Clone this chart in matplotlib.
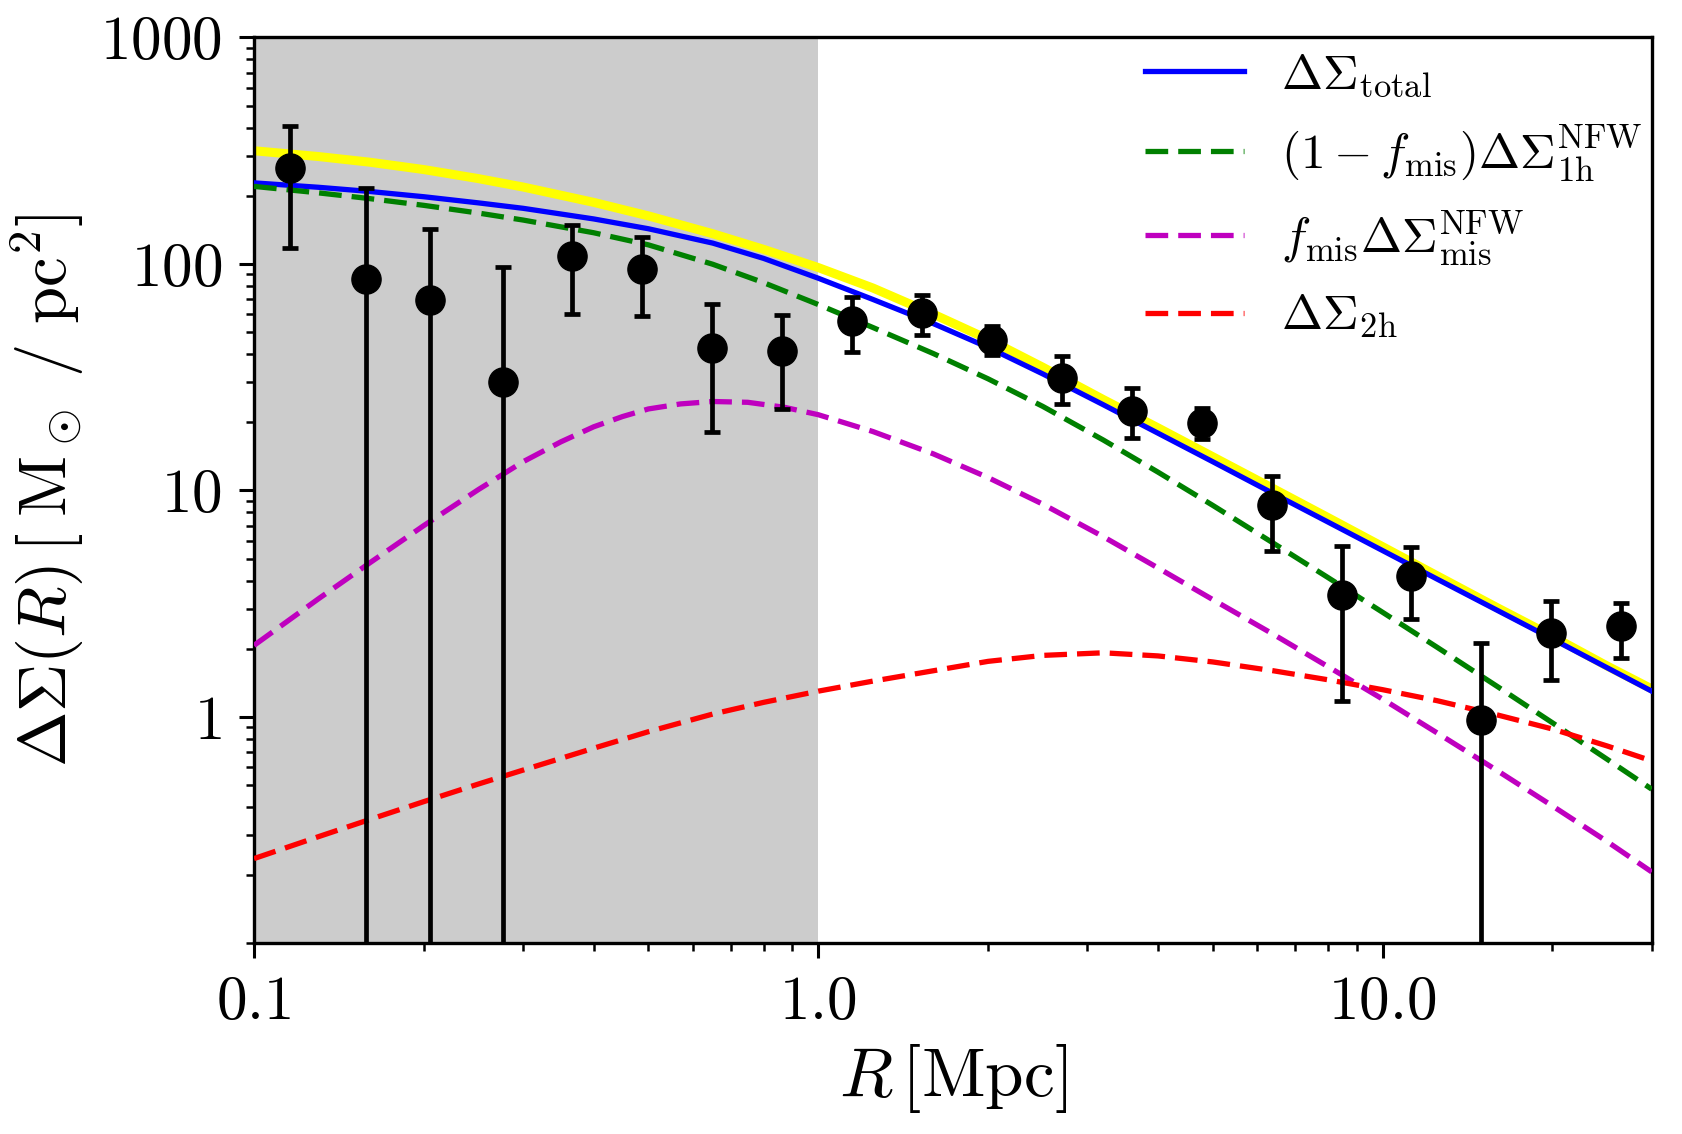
import numpy as np
import matplotlib
matplotlib.use("Agg")
import matplotlib.pyplot as plt
from matplotlib.ticker import FixedLocator, FixedFormatter, LogLocator, NullFormatter

plt.rcParams['mathtext.fontset'] = 'cm'
plt.rcParams['font.family'] = 'serif'
plt.rcParams['font.serif'] = ['cmr10', 'DejaVu Serif']
plt.rcParams['axes.unicode_minus'] = False

# ---- data points ----
R_data = [0.1156, 0.158, 0.205, 0.276, 0.366, 0.487, 0.648, 0.863, 1.148, 1.527,
          2.03, 2.70, 3.60, 4.79, 6.37, 8.47, 11.25, 14.96, 19.9, 26.5]
DS_data = [264, 86, 69, 30.1, 108, 94.6, 42.7, 41.3, 56.1, 60.5,
           46.1, 31.5, 22.4, 19.9, 8.6, 3.47, 4.18, 0.97, 2.34, 2.53]
DS_hi = [408, 217, 143, 97, 148, 131, 66.8, 59.8, 71.3, 73,
         53.1, 39.1, 28.2, 23.2, 11.6, 5.67, 5.61, 2.12, 3.25, 3.18]
DS_lo = [118, 0.01, 0.01, 0.01, 60, 59, 18.2, 22.9, 40.8, 48.6,
         39.5, 24.2, 17.1, 16.9, 5.43, 1.18, 2.70, 0.01, 1.45, 1.82]

# ---- model curves ----
R_model = [0.1, 0.13, 0.16, 0.2, 0.25, 0.3, 0.4, 0.5, 0.65, 0.8, 1.0, 1.25, 1.6,
           2.0, 2.5, 3.2, 4.0, 5.0, 6.4, 8.0, 10, 12.5, 16, 20, 25, 30]
DS_total = [228, 218, 209, 198, 186, 176, 158, 143, 123.6, 105.8, 86.5, 69.7, 54.5,
            42.8, 32.7, 23.9, 17.9, 13.4, 9.7, 7.26, 5.43, 4.06, 2.95, 2.21, 1.65, 1.30]
DS_yellow = [316, 298, 281.5, 261, 238, 218.5, 187, 163, 136, 116, 96.4, 78.3, 60,
             46.5, 35, 25.2, 18.9, 14.1, 10.2, 7.6, 5.65, 4.2, 3.03, 2.27, 1.68, 1.33]
DS_1h = [220, 206, 194.4, 181.4, 167.7, 156.2, 137.3, 121.4, 99.7, 82.7, 66.2, 52.4, 40.2,
         31.1, 23.5, 16.7, 12.05, 8.6, 5.86, 4.13, 2.90, 2.03, 1.36, 0.943, 0.651, 0.48]
DS_2h = [0.237, 0.296, 0.352, 0.423, 0.506, 0.583, 0.728, 0.861, 1.03, 1.16, 1.30, 1.44, 1.60,
         1.76, 1.87, 1.92, 1.86, 1.75, 1.60, 1.46, 1.32, 1.18, 1.02, 0.885, 0.745, 0.64]
R_mis = [0.1, 0.13, 0.16, 0.2, 0.25, 0.3, 0.35, 0.4, 0.45, 0.5, 0.57, 0.65, 0.75, 0.87,
         1.0, 1.25, 1.6, 2.0, 2.5, 3.2, 4.0, 5.0, 6.4, 8.0, 10, 12.5, 16, 20, 25, 30]
DS_mis = [2.07, 3.32, 4.77, 7.0, 10.1, 13.4, 16.4, 19.1, 21.2, 22.9, 24.1, 24.7, 24.5, 23.3,
          21.6, 18.2, 14.5, 11.4, 8.7, 6.25, 4.55, 3.3, 2.32, 1.67, 1.2, 0.85, 0.578, 0.405,
          0.282, 0.207]

labels = [r'$\Delta\Sigma_{\rm total}$',
          r'$(1-f_{\rm mis})\Delta\Sigma_{\rm 1h}^{\rm NFW}$',
          r'$f_{\rm mis}\Delta\Sigma_{\rm mis}^{\rm NFW}$',
          r'$\Delta\Sigma_{\rm 2h}$']

fig = plt.figure(figsize=(16.82, 11.34), dpi=100)
ax = fig.add_axes([0.151, 0.168, 0.831, 0.799])

ax.axvspan(0.1, 1.0, color='#cccccc', zorder=0, lw=0)

dash = (4.3, 1.9)
ax.plot(R_model, DS_yellow, color='yellow', lw=6.5, zorder=2)
ax.plot(R_model, DS_total, color='blue', lw=3.8, zorder=3, label=labels[0])
ax.plot(R_model, DS_1h, color='green', lw=3.8, ls='--', dashes=dash, zorder=3, label=labels[1])
ax.plot(R_mis, DS_mis, color='m', lw=3.8, ls='--', dashes=dash, zorder=3, label=labels[2])
ax.plot(R_model, DS_2h, color='red', lw=3.8, ls='--', dashes=dash, zorder=3, label=labels[3])

y = np.array(DS_data)
yerr = np.vstack([y - np.array(DS_lo), np.array(DS_hi) - y])
ax.errorbar(R_data, DS_data, yerr=yerr, fmt='o', color='black', ms=21,
            elinewidth=3.4, capsize=5.5, capthick=3.4, zorder=4)

ax.set_xscale('log')
ax.set_yscale('log')
ax.set_xlim(0.1, 30)
ax.set_ylim(0.1, 1000)

ax.xaxis.set_major_locator(FixedLocator([0.1, 1.0, 10.0]))
ax.xaxis.set_major_formatter(FixedFormatter([r'$0.1$', r'$1.0$', r'$10.0$']))
ax.yaxis.set_major_locator(FixedLocator([1, 10, 100, 1000]))
ax.yaxis.set_major_formatter(FixedFormatter([r'$1$', r'$10$', r'$100$', r'$1000$']))
ax.xaxis.set_minor_locator(LogLocator(base=10, subs=np.arange(2, 10)))
ax.yaxis.set_minor_locator(LogLocator(base=10, subs=np.arange(1, 10)))
ax.xaxis.set_minor_formatter(NullFormatter())
ax.yaxis.set_minor_formatter(NullFormatter())

ax.tick_params(which='major', length=11, width=2.2, labelsize=44, pad=12)
ax.tick_params(which='minor', length=6, width=1.8)
for s in ax.spines.values():
    s.set_linewidth(2.4)

ax.set_xlabel(r'$R\,[\mathrm{Mpc}]$', fontsize=50, labelpad=8)
ax.set_ylabel(r'$\Delta\Sigma(R)\,[\;\mathrm{M}_\odot\ /\ \mathrm{pc}^2]$', fontsize=48, labelpad=10)

ax.legend(loc='upper right', bbox_to_anchor=(1.018, 1.022), frameon=False, fontsize=35.5,
          handlelength=2.0, handletextpad=0.75, labelspacing=0.5, borderaxespad=0.3)

fig.savefig('out.png', dpi=100)
